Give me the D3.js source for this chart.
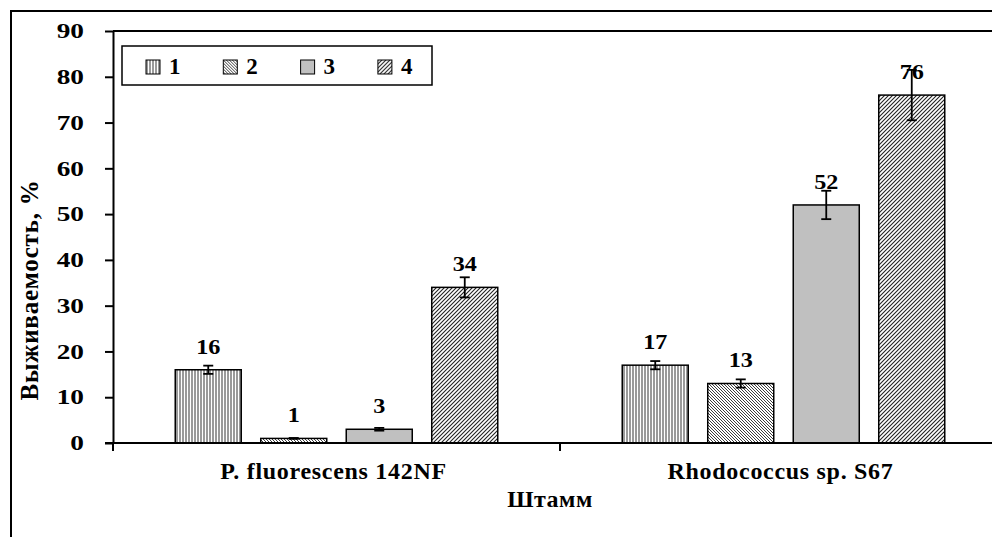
<!DOCTYPE html>
<html>
<head>
<meta charset="utf-8">
<script src="https://cdn.jsdelivr.net/npm/d3@7"></script>
<style>
  body { margin: 0; background: #fff; }
  text { font-family: "Liberation Serif", "Times New Roman", serif; font-weight: bold; }
</style>
</head>
<body>
<div class="chart"></div>
<script>
// strains on the x axis, four treatments per strain
var strains = ["P. fluorescens 142NF", "Rhodococcus sp. S67"];
var series = ["1", "2", "3", "4"];
var survival1 = [16, 17];
var survival2 = [1, 13];
var survival3 = [3, 52];
var survival4 = [34, 76];
var err1 = [0.9, 0.9];
var err2 = [0.1, 0.9];
var err3 = [0.3, 3.1];
var err4 = [2.2, 5.5];
var yTicks = [0, 10, 20, 30, 40, 50, 60, 70, 80, 90];

var width = 992;
var height = 537;
var margin = {top: 31, right: -15, bottom: 94, left: 113};

var values = [survival1, survival2, survival3, survival4];
var errors = [err1, err2, err3, err4];
var rows = [];
strains.forEach(function(s, i) {
  series.forEach(function(k, j) {
    rows.push({strain: s, key: k, value: values[j][i], err: errors[j][i]});
  });
});

var svg = d3.select(".chart")
  .append("svg")
  .attr("width", width)
  .attr("height", height);

// fill patterns like the old Excel hatches
var defs = svg.append("defs");
var p1 = defs.append("pattern").attr("id", "pat1")
  .attr("patternUnits", "userSpaceOnUse").attr("width", 3).attr("height", 3);
p1.append("rect").attr("width", 3).attr("height", 3).attr("fill", "#fff");
p1.append("rect").attr("width", 2).attr("height", 3).attr("fill", "#9a9a9a");

var p2 = defs.append("pattern").attr("id", "pat2")
  .attr("patternUnits", "userSpaceOnUse").attr("width", 3).attr("height", 3);
p2.append("rect").attr("width", 3).attr("height", 3).attr("fill", "#fff");
p2.append("path").attr("d", "M-1,-1 L4,4 M-1,2 L1,4 M2,-1 L4,1")
  .attr("stroke", "#333").attr("stroke-width", 0.95);

var p3color = "#c0c0c0";

var p4 = defs.append("pattern").attr("id", "pat4")
  .attr("patternUnits", "userSpaceOnUse").attr("width", 4).attr("height", 4);
p4.append("rect").attr("width", 4).attr("height", 4).attr("fill", "#fff");
p4.append("path").attr("d", "M-1,5 L5,-1 M-1,1 L1,-1 M3,5 L5,3")
  .attr("stroke", "#222").attr("stroke-width", 1.1);

var fills = {"1": "url(#pat1)", "2": "url(#pat2)", "3": p3color, "4": "url(#pat4)"};

// outer chart frame (cropped on the right and bottom)
svg.append("path")
  .attr("d", "M11," + height + " L11,11 L" + width + ",11")
  .attr("fill", "none").attr("stroke", "#000").attr("stroke-width", 2);

var plotW = width - margin.left - margin.right;

var g = svg.append("g")
  .attr("transform", "translate(" + margin.left + "," + margin.top + ")");

var xScale0 = d3.scaleBand().domain(strains).range([0, 894]).padding(0);
var xScale1 = d3.scaleBand().domain(series).range([0, xScale0.bandwidth()])
  .paddingInner(0.228).paddingOuter(0.728);
var yScale = d3.scaleLinear().domain([0, 90]).range([412, 0]);

// plot area top edge
g.append("line")
  .attr("x1", 0).attr("x2", plotW + 20)
  .attr("y1", 0).attr("y2", 0)
  .attr("stroke", "#000").attr("stroke-width", 2);

// bars
g.selectAll(".bar")
  .data(rows)
  .enter().append("rect")
  .attr("class", "bar")
  .attr("x", d => xScale0(d.strain) + xScale1(d.key))
  .attr("y", d => yScale(d.value))
  .attr("width", xScale1.bandwidth())
  .attr("height", d => yScale(0) - yScale(d.value))
  .attr("fill", d => fills[d.key])
  .attr("stroke", "#000")
  .attr("stroke-width", 1.5);

// error bars
var eb = g.selectAll(".err")
  .data(rows)
  .enter().append("g")
  .attr("class", "err")
  .attr("transform", d => "translate(" + (xScale0(d.strain) + xScale1(d.key) + xScale1.bandwidth() / 2) + ",0)");
eb.append("line")
  .attr("y1", d => yScale(d.value - d.err)).attr("y2", d => yScale(d.value + d.err))
  .attr("stroke", "#000").attr("stroke-width", 1.8);
eb.append("line")
  .attr("x1", -5).attr("x2", 5)
  .attr("y1", d => yScale(d.value - d.err)).attr("y2", d => yScale(d.value - d.err))
  .attr("stroke", "#000").attr("stroke-width", 1.8);
eb.append("line")
  .attr("x1", -5).attr("x2", 5)
  .attr("y1", d => yScale(d.value + d.err)).attr("y2", d => yScale(d.value + d.err))
  .attr("stroke", "#000").attr("stroke-width", 1.8);

// value labels (slightly widened like the source)
g.selectAll(".vlabel")
  .data(rows)
  .enter().append("text")
  .attr("class", "vlabel")
  .attr("transform", d => "translate(" + (xScale0(d.strain) + xScale1(d.key) + xScale1.bandwidth() / 2) + "," + (yScale(d.value) - 16) + ")scale(1.1,1)")
  .attr("text-anchor", "middle")
  .style("font-size", "22px")
  .text(d => d.value);

// y axis
var yAxis = d3.axisLeft(yScale).tickValues(yTicks).tickSize(8).tickSizeOuter(0);
var ya = g.append("g").call(yAxis);
ya.select(".domain").attr("stroke-width", 2);
ya.selectAll(".tick line").attr("stroke-width", 2);
ya.selectAll("text")
  .attr("x", -29 / 1.3)
  .attr("transform", "scale(1.3,1)")
  .style("font-size", "21px")
  .style("font-family", "Liberation Serif, serif")
  .attr("fill", "#000");
g.append("line").attr("x1", 0).attr("x2", 0).attr("y1", yScale(0)).attr("y2", yScale(0) + 8)
  .attr("stroke", "#000").attr("stroke-width", 2);

// x axis
var xAxis = d3.axisBottom(xScale0).tickSize(0).tickSizeOuter(0);
var xa = g.append("g")
  .attr("transform", "translate(0," + yScale(0) + ")")
  .call(xAxis);
xa.select(".domain").attr("stroke-width", 2).attr("d", "M-8,0H" + (plotW + 20));
xa.selectAll("text")
  .attr("x", -3)
  .attr("y", 36).attr("dy", null)
  .style("font-size", "24px")
  .style("letter-spacing", "0.7px")
  .style("font-family", "Liberation Serif, serif")
  .attr("fill", "#000");
// boundary tick between the two strains
xa.append("line")
  .attr("x1", xScale0(strains[1])).attr("x2", xScale0(strains[1]))
  .attr("y1", 0).attr("y2", 8)
  .attr("stroke", "#000").attr("stroke-width", 2);

// axis titles
svg.append("text")
  .attr("text-anchor", "middle")
  .attr("transform", "translate(38,290)rotate(-90)")
  .style("font-size", "25px")
  .style("letter-spacing", "0.8px")
  .text("Выживаемость, %");

svg.append("text")
  .attr("x", 550).attr("y", 507)
  .attr("text-anchor", "middle")
  .style("font-size", "24px")
  .style("letter-spacing", "0.5px")
  .text("Штамм");

// legend
var legend = svg.append("g").attr("transform", "translate(122,46)");
legend.append("rect")
  .attr("width", 310).attr("height", 39)
  .attr("fill", "#fff").attr("stroke", "#000").attr("stroke-width", 1.5);
var li = legend.selectAll(".li")
  .data(series)
  .enter().append("g")
  .attr("transform", (d, i) => "translate(" + (24 + i * 77.3) + ",14)");
li.append("rect")
  .attr("width", 14).attr("height", 14)
  .attr("fill", d => fills[d])
  .attr("stroke", "#000").attr("stroke-width", 1);
li.append("text")
  .attr("x", 23).attr("y", 14)
  .style("font-size", "23px")
  .text(d => d);
</script>
</body>
</html>
